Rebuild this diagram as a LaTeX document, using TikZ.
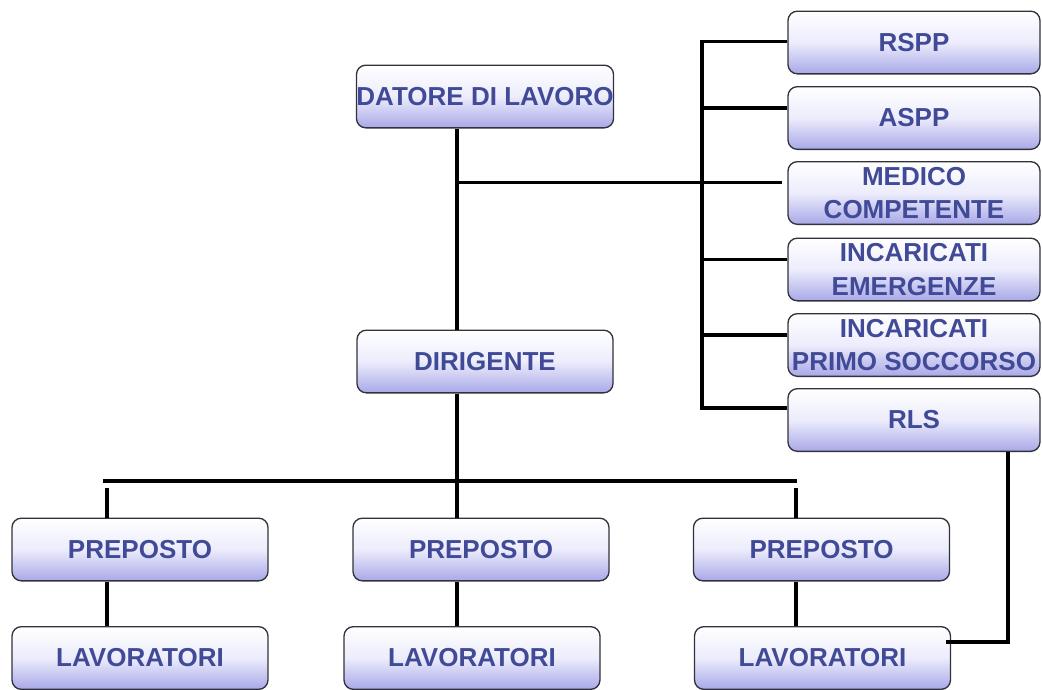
\documentclass[tikz,border=0pt]{standalone}
\usepackage{fontspec}
\setmainfont{Liberation Sans}
\definecolor{boxlav}{RGB}{168,168,232}
\definecolor{boxmid}{RGB}{236,236,252}
\definecolor{txtblue}{RGB}{64,74,150}
\definecolor{boxedge}{RGB}{50,50,60}
\begin{document}
\begin{tikzpicture}[x=0.75pt, y=-0.75pt,
    role/.style = {draw=boxedge, line width=1pt, rounded corners=7pt,
                   top color=white, bottom color=boxlav, middle color=boxmid,
                   text=txtblue, font=\bfseries\fontsize{19.5pt}{25pt}\selectfont,
                   align=center, inner sep=0pt, minimum width=192pt, minimum height=47pt},
    side/.style = {role, minimum width=189pt},
    link/.style = {line width=2.5pt}]
    \useasboundingbox (0,0) rectangle (1042,689);

    % main line
    \node[role] (datore) at (485,96.5) {DATORE DI LAVORO};
    \node[role] (dirigente) at (485,361.5) {DIRIGENTE};

    % staff column
    \node[side] (rspp) at (914,42.5) {RSPP};
    \node[side] (aspp) at (914,118) {ASPP};
    \node[side] (medico) at (914,193) {MEDICO\\COMPETENTE};
    \node[side] (emerg) at (914,269.5) {INCARICATI\\EMERGENZE};
    \node[side] (primo) at (914,345) {INCARICATI\\PRIMO SOCCORSO};
    \node[side] (rls) at (914,420) {RLS};

    % bottom rows
    \node[role] (prep1) at (140,549.5) {PREPOSTO};
    \node[role] (prep2) at (481,549.5) {PREPOSTO};
    \node[role] (prep3) at (821.5,549.5) {PREPOSTO};
    \node[role] (lav1) at (140,658) {LAVORATORI};
    \node[role] (lav2) at (472,658) {LAVORATORI};
    \node[role] (lav3) at (822.5,658) {LAVORATORI};

    \coordinate (trunk) at (457,0);
    \coordinate (busbot) at (702,408);
    \coordinate (hbusL) at (103,481);
    \coordinate (hbusR) at (797,481);
    \coordinate (d1) at (107,488);
    \coordinate (d3) at (796,488);
    \coordinate (rlsdrop) at (1008,642);

    \draw[link] (datore.south -| trunk) -- (dirigente.north -| trunk);
    \draw[link] (dirigente.south -| trunk) -- (prep2.north -| trunk);
    \draw[link] (prep2.south -| trunk) -- (lav2.north -| trunk);

    \draw[link] ([yshift=1pt]rspp.west) -| (busbot) -- (busbot -| rls.west);
    \foreach \n in {aspp, emerg, primo}
        \draw[link] ([yshift=7.5pt]\n.west) -- ([yshift=7.5pt]\n.west -| busbot);
    \draw[link] ([yshift=8pt,xshift=-4pt]medico.west) -- ([yshift=8pt]medico.west -| trunk);

    \draw[link] (hbusL) -- (hbusR);
    \draw[link] (d1) -- (d1 |- prep1.north);
    \draw[link] (prep1.south -| d1) -- (lav1.north -| d1);
    \draw[link] (d3) -- (d3 |- prep3.north);
    \draw[link] (prep3.south -| d3) -- (lav3.north -| d3);

    \draw[link] (rls.south -| rlsdrop) |- ([xshift=-4pt,yshift=12pt]lav3.east);
\end{tikzpicture}
\end{document}
